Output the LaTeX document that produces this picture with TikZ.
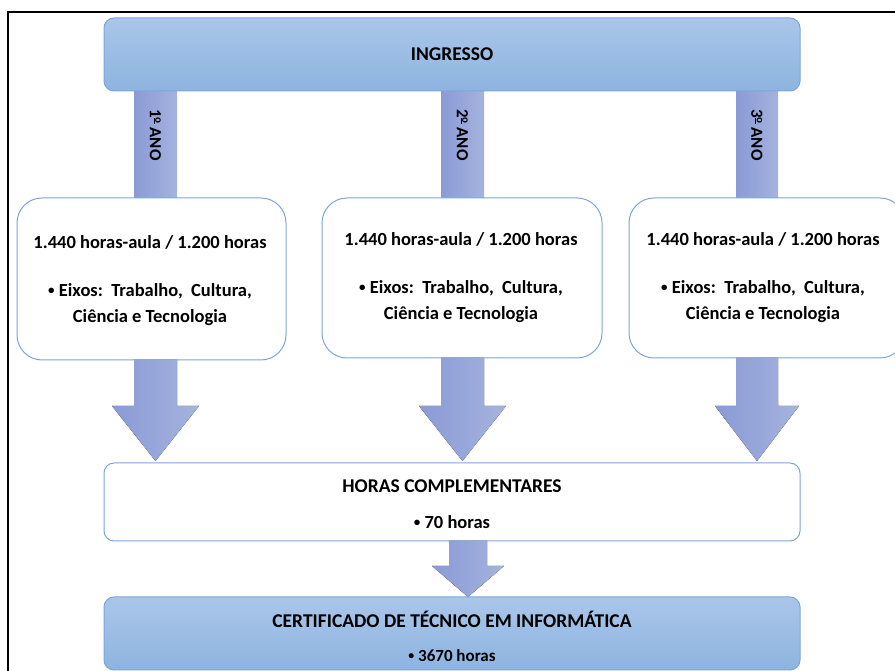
\documentclass[tikz,border=0pt]{standalone}
\usepackage{fontspec}
\setmainfont{Carlito}
\newcommand{\smbul}{\raisebox{0.12em}{\scalebox{0.7}{•}}}
\newcommand{\ordmas}{\raisebox{0.32em}{\fontsize{11}{11}\selectfont\underline{o}}}
\newcommand{\wsp}{\hspace{0.45em}}
\begin{document}
\begin{tikzpicture}[x=1pt,y=1pt,
  bluebox/.style={draw=boxline, line width=1pt, rounded corners=10pt, top color=ingtop, bottom color=ingbot},
  whitebox/.style={draw=boxline, line width=1pt, fill=white},
  bar/.style={left color=barL, right color=barR, draw=none},
  txt/.style={font=\bfseries\fontsize{18.5}{26}\selectfont, text=black, align=center},
  captxt/.style={font=\bfseries\fontsize{19.5}{22}\selectfont, text=black, align=center},
  yeartxt/.style={font=\bfseries\fontsize{17}{20}\selectfont, text=black, rotate=-90},
]
\definecolor{boxline}{HTML}{7EA5DA}
\definecolor{ingtop}{HTML}{AAC6E9}
\definecolor{ingbot}{HTML}{8DB4E0}
\definecolor{barL}{HTML}{8A9AD5}
\definecolor{barR}{HTML}{A5B3DE}
\useasboundingbox (0,0) rectangle (895,671);
% frame
\draw[line width=2pt] (8,0) -- (8,659) -- (895,659);

% vertical bars
\fill[bar] (134,473) rectangle (177,581);
\fill[bar] (441,473) rectangle (484,581);
\fill[bar] (736,473) rectangle (778,581);

% INGRESSO
\node[bluebox, minimum width=696pt, minimum height=73pt, inner sep=0pt] (ing) at (452,616.5) {};
\node[captxt] (ingt) at (452,617) {INGRESSO};

\node[yeartxt] (y1) at (155.5,536) {1\ordmas\ ANO};
\node[yeartxt] (y2) at (462.5,536) {2\ordmas\ ANO};
\node[yeartxt] (y3) at (757,536) {3\ordmas\ ANO};

% year boxes
\draw[whitebox, rounded corners=25pt] (17,311) rectangle (286,473);
\draw[whitebox, rounded corners=25pt] (322,313) rectangle (602,473);
\draw[whitebox, rounded corners=25pt] (629,313) rectangle (905,473);
\foreach \n/\x/\dy in {1/150/0, 2/461/3, 3/763/3}{
  \node[txt] (h\n) at (\x,429+\dy) {1.440 horas-aula / 1.200 horas};
  \node[txt] (e\n) at (\x,366+\dy) {\smbul\ Eixos:\wsp Trabalho,\wsp Cultura,\\Ciência e Tecnologia};
}

% block arrows
\foreach \c/\w/\hw/\t in {155.5/21.5/43.5/311, 462.5/21.5/43.5/313, 757/21/42/313}{
  \fill[left color=barL, right color=barR]
    (\c-\w,\t) -- (\c-\w,265) -- (\c-\hw,265) -- (\c,210) -- (\c+\hw,265) -- (\c+\w,265) -- (\c+\w,\t) -- cycle;
}

% horas complementares
\draw[whitebox, rounded corners=10pt] (104,130) rectangle (800,208);
\node[captxt] (hc) at (452,185) {HORAS COMPLEMENTARES};
\node[txt] (hc2) at (452,149) {\smbul\ 70 horas};

% small arrow
\fill[left color=barL, right color=barR]
  (449,130) -- (449,105) -- (432,105) -- (468,74) -- (504,105) -- (487,105) -- (487,130) -- cycle;

% certificado
\draw[bluebox] (104,1) rectangle (800,74);
\node[captxt] (ce) at (452,52) {CERTIFICADO DE TÉCNICO EM INFORMÁTICA};
\node[txt, font=\bfseries\fontsize{17}{18}\selectfont] (ce2) at (452,15) {\smbul\ 3670 horas};
\end{tikzpicture}
\end{document}
